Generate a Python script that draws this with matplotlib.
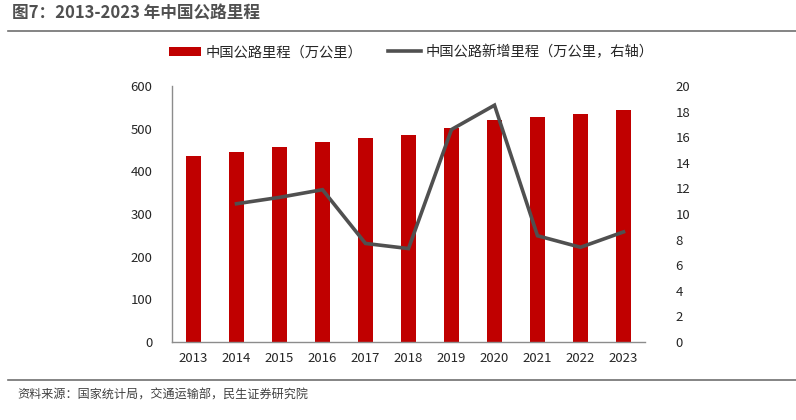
import matplotlib
matplotlib.use("Agg")
import matplotlib.pyplot as plt
from matplotlib.lines import Line2D
import numpy as np

plt.rcParams['font.family'] = ['Noto Sans CJK SC', 'DejaVu Sans']

years = ['2013', '2014', '2015', '2016', '2017', '2018', '2019', '2020', '2021', '2022', '2023']
mileage = [435.6, 446.4, 457.7, 469.6, 477.4, 484.7, 501.3, 519.8, 528.1, 535.5, 543.7]
new_years = ['2014', '2015', '2016', '2017', '2018', '2019', '2020', '2021', '2022', '2023']
new_mileage = [10.8, 11.3, 11.9, 7.7, 7.3, 16.6, 18.5, 8.3, 7.4, 8.6]

BAR_COLOR = '#C00000'
LINE_COLOR = '#505050'
TEXT_COLOR = '#262626'

fig = plt.figure(figsize=(7.96, 4.2), dpi=100)

# title + rules
fig.text(12 / 796, 1 - 14 / 420, '图7：2013-2023 年中国公路里程', fontsize=12,
         fontweight='bold', color='#505050', va='center', ha='left')
fig.add_artist(Line2D([8 / 796, 1], [1 - 31 / 420] * 2, color='#707070', lw=1.2))
fig.add_artist(Line2D([8 / 796, 1], [1 - 380 / 420] * 2, color='#707070', lw=1.2))
fig.text(17 / 796, 1 - 395 / 420, '资料来源：国家统计局，交通运输部，民生证券研究院',
         fontsize=8.7, color='#404040', va='center', ha='left')

ax = fig.add_axes([172 / 796, 1 - 342 / 420, 473 / 796, 256 / 420])
x = np.arange(len(years))
ax.bar(x, mileage, width=0.34, color=BAR_COLOR, label='中国公路里程（万公里）', zorder=2)
ax.set_xlim(-0.5, len(years) - 0.5)
ax.set_ylim(0, 600)
ax.set_yticks(np.arange(0, 601, 100))
ax.set_xticks(x)
ax.set_xticklabels(years)
ax.tick_params(axis='both', length=0, labelsize=9.5, colors=TEXT_COLOR)
ax.tick_params(axis='y', pad=14)
ax.tick_params(axis='x', pad=7)
for s in ['top', 'right']:
    ax.spines[s].set_visible(False)
for s in ['left', 'bottom']:
    ax.spines[s].set_color('#8c8c8c')
    ax.spines[s].set_linewidth(1)

ax2 = ax.twinx()
xi = [years.index(y) for y in new_years]
ax2.plot(xi, new_mileage, color=LINE_COLOR, lw=2.6, label='中国公路新增里程（万公里，右轴）',
         solid_joinstyle='miter', zorder=3)
ax2.set_ylim(0, 20)
ax2.set_yticks(np.arange(0, 21, 2))
ax2.tick_params(axis='y', length=0, labelsize=9.5, colors=TEXT_COLOR, pad=22)
for s in ['top', 'right', 'left', 'bottom']:
    ax2.spines[s].set_visible(False)

h1, l1 = ax.get_legend_handles_labels()
h2, l2 = ax2.get_legend_handles_labels()
fig.legend(h1 + h2, l1 + l2, loc='center', bbox_to_anchor=(411 / 796, 1 - 52 / 420),
           ncol=2, frameon=False, fontsize=10.3, handlelength=2.3, handleheight=0.6,
           columnspacing=1.8, handletextpad=0.3, labelcolor=TEXT_COLOR)

fig.savefig('out.png', dpi=100)
